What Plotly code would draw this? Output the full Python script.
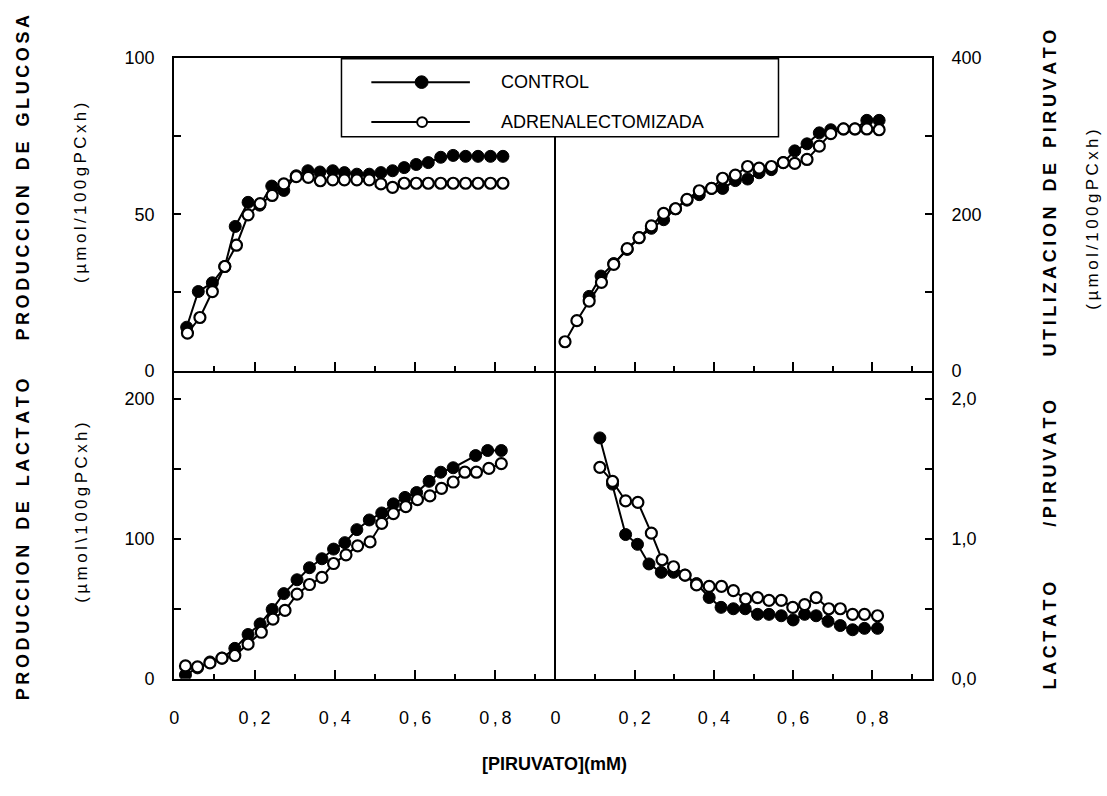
import plotly.graph_objects as go

# ---------------- data ----------------
# Top-left: glucose production (umol/100gPC x h)
x_glu_ctrl = [0.031, 0.060, 0.095, 0.126, 0.152, 0.184, 0.213, 0.243, 0.273, 0.304, 0.333, 0.363, 0.395, 0.424,
              0.455, 0.486, 0.515, 0.544, 0.573, 0.603, 0.633, 0.664, 0.695, 0.726, 0.757, 0.788, 0.819]
glu_ctrl = [13.9, 25.3, 28.1, 33.3, 46.1, 53.8, 52.9, 59.0, 57.6, 62.3, 63.9, 63.5, 63.9, 63.3,
            62.8, 62.8, 63.3, 63.9, 64.9, 65.9, 66.5, 68.2, 68.8, 68.5, 68.5, 68.5, 68.5]
x_glu_adx = [0.033, 0.064, 0.095, 0.126, 0.155, 0.184, 0.214, 0.244, 0.273, 0.304, 0.334, 0.364, 0.395, 0.424,
             0.455, 0.486, 0.515, 0.544, 0.573, 0.603, 0.633, 0.664, 0.695, 0.726, 0.757, 0.788, 0.819]
glu_adx = [12.0, 17.0, 25.3, 33.3, 40.1, 49.8, 53.4, 56.0, 59.7, 62.0, 61.8, 60.7, 61.0, 61.0,
           61.0, 61.0, 59.7, 58.6, 59.9, 59.9, 59.9, 59.9, 59.9, 59.9, 59.9, 59.9, 59.9]

# Top-right: pyruvate utilisation
x_pir_ctrl = [0.085, 0.115, 0.147, 0.181, 0.211, 0.242, 0.273, 0.303, 0.332, 0.363, 0.394, 0.422, 0.454,
              0.485, 0.514, 0.545, 0.575, 0.604, 0.635, 0.666, 0.695, 0.727, 0.756, 0.786, 0.817]
pir_ctrl = [95, 121, 137, 155, 170, 182, 193, 207, 218, 225, 233, 233, 243,
            245, 253, 257, 266, 281, 290, 304, 308, 309, 309, 320, 320]
x_pir_adx = [0.024, 0.054, 0.085, 0.116, 0.147, 0.181, 0.211, 0.242, 0.273, 0.303, 0.332, 0.363, 0.394, 0.422,
             0.454, 0.485, 0.514, 0.545, 0.575, 0.604, 0.635, 0.666, 0.695, 0.727, 0.756, 0.786, 0.817]
pir_adx = [37, 64, 89, 113, 136, 156, 170, 185, 201, 207, 219, 230, 233, 246,
           250, 261, 259, 261, 266, 265, 270, 287, 303, 309, 309, 309, 308]

# Bottom-left: lactate production
x_lac_ctrl = [0.028, 0.058, 0.089, 0.119, 0.151, 0.184, 0.214, 0.244, 0.273, 0.306, 0.337, 0.368, 0.397,
              0.425, 0.455, 0.486, 0.517, 0.546, 0.575, 0.604, 0.635, 0.664, 0.695, 0.751, 0.781, 0.815]
lac_ctrl = [2.8, 7.8, 12.0, 14.7, 21.7, 31.6, 39.2, 49.5, 60.8, 70.7, 79.3, 85.7, 92.6,
            97.2, 106.5, 113.4, 118.4, 124.9, 129.5, 133.0, 141.0, 147.5, 150.7, 159.4, 163.0, 163.0]
x_lac_adx = [0.028, 0.058, 0.089, 0.119, 0.151, 0.184, 0.217, 0.246, 0.276, 0.306, 0.337, 0.368, 0.397, 0.428,
             0.457, 0.488, 0.517, 0.546, 0.577, 0.606, 0.637, 0.666, 0.695, 0.724, 0.753, 0.784, 0.815]
lac_adx = [9.2, 8.5, 11.3, 14.7, 16.6, 24.7, 33.2, 42.6, 48.8, 60.4, 67.3, 72.4, 82.3, 88.5,
           94.9, 97.7, 111.0, 118.0, 123.0, 127.9, 130.6, 136.0, 140.5, 147.5, 147.5, 150.2, 153.7]

# Bottom-right: lactate / pyruvate ratio
x_lp_ctrl = [0.112, 0.144, 0.177, 0.207, 0.236, 0.267, 0.298, 0.327, 0.356, 0.388, 0.418, 0.449,
             0.479, 0.510, 0.539, 0.570, 0.600, 0.629, 0.658, 0.688, 0.719, 0.750, 0.780, 0.813]
lp_ctrl = [1.72, 1.39, 1.03, 0.96, 0.82, 0.76, 0.76, 0.74, 0.68, 0.58, 0.51, 0.50,
           0.50, 0.46, 0.46, 0.45, 0.42, 0.46, 0.45, 0.41, 0.38, 0.35, 0.36, 0.36]
x_lp_adx = [0.112, 0.144, 0.177, 0.208, 0.242, 0.269, 0.298, 0.327, 0.356, 0.388, 0.419, 0.449,
            0.480, 0.510, 0.539, 0.570, 0.599, 0.629, 0.658, 0.690, 0.719, 0.750, 0.780, 0.813]
lp_adx = [1.51, 1.41, 1.27, 1.26, 1.04, 0.85, 0.80, 0.74, 0.67, 0.66, 0.66, 0.63,
          0.57, 0.58, 0.56, 0.56, 0.51, 0.53, 0.58, 0.50, 0.50, 0.46, 0.46, 0.45]

series_names = ["CONTROL", "ADRENALECTOMIZADA"]
x_major = [0, 0.2, 0.4, 0.6, 0.8]
x_minor = [0.1, 0.3, 0.5, 0.7, 0.9]
T = "\u2009"
x_labels = ["0", "0" + T + "," + T + "2", "0" + T + "," + T + "4", "0" + T + "," + T + "6", "0" + T + "," + T + "8"]

# ---------------- layout helpers ----------------
W, H = 1107, 796
def px(x):
    return x / W
def py(y):
    return 1 - y / H

FONT = "Liberation Sans, Arial, Helvetica, sans-serif"
BLACK = "#000000"
xL = [px(170), px(553)]
xR = [px(553), px(931)]
yT = [py(370), py(49)]
yB = [py(686), py(370)]

fig = go.Figure()

def add_pair(xc, yc, xa, ya, xaxis, yaxis):
    fig.add_trace(go.Scatter(x=xc, y=yc, mode="lines+markers", name=series_names[0],
                             xaxis=xaxis, yaxis=yaxis, showlegend=False,
                             line=dict(color=BLACK, width=2),
                             marker=dict(symbol="circle", size=12, color=BLACK,
                                         line=dict(color=BLACK, width=1))))
    fig.add_trace(go.Scatter(x=xa, y=ya, mode="lines+markers", name=series_names[1],
                             xaxis=xaxis, yaxis=yaxis, showlegend=False,
                             line=dict(color=BLACK, width=2),
                             marker=dict(symbol="circle", size=11, color="white",
                                         line=dict(color=BLACK, width=2.2))))

add_pair(x_glu_ctrl, glu_ctrl, x_glu_adx, glu_adx, "x", "y")
add_pair(x_pir_ctrl, pir_ctrl, x_pir_adx, pir_adx, "x2", "y2")
add_pair(x_lac_ctrl, lac_ctrl, x_lac_adx, lac_adx, "x3", "y3")
add_pair(x_lp_ctrl, lp_ctrl, x_lp_adx, lp_adx, "x4", "y4")

tickfont = dict(family=FONT, size=18, color=BLACK)

def xaxis_cfg(domain, anchor, labels, mirror):
    return dict(domain=domain, anchor=anchor, range=[0, 0.95], showgrid=False, zeroline=False,
                showline=True, linecolor=BLACK, linewidth=2, mirror=mirror,
                ticks="inside", tickmode="array", tickvals=x_major,
                ticktext=x_labels, showticklabels=labels, ticklen=9, tickwidth=2, tickcolor=BLACK,
                minor=dict(tickmode="array", tickvals=x_minor, ticks="inside", ticklen=5,
                           tickwidth=2, tickcolor=BLACK),
                tickfont=tickfont, ticklabelstandoff=22, fixedrange=True)

def yaxis_cfg(domain, anchor, rng, vals, text, side, mirror):
    return dict(domain=domain, anchor=anchor, range=rng, showgrid=False, zeroline=False,
                showline=True, linecolor=BLACK, linewidth=2, mirror=mirror, side=side,
                ticks="inside", tickmode="array", tickvals=vals, ticktext=text,
                ticklen=7, tickwidth=2, tickcolor=BLACK, tickfont=tickfont,
                ticklabelstandoff=14, fixedrange=True)

fig.update_layout(
    width=W, height=H, margin=dict(l=0, r=0, t=0, b=0, pad=0),
    paper_bgcolor="white", plot_bgcolor="white", showlegend=False,
    font=dict(family=FONT, color=BLACK),
    xaxis=xaxis_cfg(xL, "y", False, True),
    xaxis2=xaxis_cfg(xR, "y2", False, True),
    xaxis3=xaxis_cfg(xL, "y3", True, False),
    xaxis4=xaxis_cfg(xR, "y4", True, False),
    yaxis=yaxis_cfg(yT, "x", [0, 100], [0, 25, 50, 75, 100], ["0", "", "50", "", "100"], "left", False),
    yaxis2=yaxis_cfg(yT, "x2", [0, 400], [0, 100, 200, 300, 400], ["0", "", "200", "", "400"], "right", True),
    yaxis3=yaxis_cfg(yB, "x3", [0, 220], [0, 50, 100, 150, 200], ["0", "", "100", "", "200"], "left", False),
    yaxis4=yaxis_cfg(yB, "x4", [0, 2.2], [0, 0.5, 1.0, 1.5, 2.0], ["0,0", "", "1,0", "", "2,0"], "right", True),
)

# ---------------- legend (drawn box) ----------------
shapes = [
    dict(type="rect", xref="paper", yref="paper", x0=px(338), x1=px(777), y0=py(130), y1=py(50),
         fillcolor="white", line=dict(color=BLACK, width=1.5), layer="above"),
    dict(type="line", xref="paper", yref="paper", x0=px(368), x1=px(467), y0=py(74), y1=py(74),
         line=dict(color=BLACK, width=2), layer="above"),
    dict(type="line", xref="paper", yref="paper", x0=px(368), x1=px(467), y0=py(115), y1=py(115),
         line=dict(color=BLACK, width=2), layer="above"),
    dict(type="circle", xref="paper", yref="paper", x0=px(412), x1=px(425), y0=py(80.5), y1=py(67.5),
         fillcolor=BLACK, line=dict(color=BLACK, width=1), layer="above"),
    dict(type="circle", xref="paper", yref="paper", x0=px(414), x1=px(424), y0=py(120), y1=py(110),
         fillcolor="white", line=dict(color=BLACK, width=2), layer="above"),
]
fig.update_layout(shapes=shapes)

ann = []
ann.append(dict(x=px(496), y=py(74), xref="paper", yref="paper", text=series_names[0], showarrow=False,
                xanchor="left", yanchor="middle", font=dict(family=FONT, size=18, color=BLACK)))
ann.append(dict(x=px(496), y=py(115), xref="paper", yref="paper", text=series_names[1], showarrow=False,
                xanchor="left", yanchor="middle", font=dict(family=FONT, size=18, color=BLACK)))

def spaced(s):
    return T.join(list(s))

def spaced_words(words, gap):
    return gap.join(spaced(w) for w in words)

def vtext(x, y, text, bold=True, size=17):
    t = "<b>" + text + "</b>" if bold else text
    ann.append(dict(x=px(x), y=py(y), xref="paper", yref="paper", text=t, showarrow=False,
                    textangle=-90, xanchor="center", yanchor="middle",
                    font=dict(family=FONT, size=size, color=BLACK)))

GAP = "&nbsp;&nbsp;&nbsp;"
vtext(18, 172, spaced_words(["PRODUCCION", "DE", "GLUCOSA"], GAP), size=18)
vtext(76, 188, spaced("(\u00b5mol/100gPCxh)"), bold=False, size=17)
vtext(18, 543, spaced_words(["PRODUCCION", "DE", "LACTATO"], GAP), size=18)
vtext(76, 516, spaced("(\u00b5mol\\100gPCxh)"), bold=False, size=17)
vtext(1050, 188, spaced_words(["UTILIZACION", "DE", "PIRUVATO"], GAP), size=18)
vtext(1093, 215, spaced("(\u00b5mol/100gPCxh)"), bold=False, size=17)
vtext(1050, 549, spaced_words(["LACTATO", "/PIRUVATO"], GAP * 3 + "&nbsp;&nbsp;"), size=18)

ann.append(dict(x=px(552), y=py(773), xref="paper", yref="paper",
                text="<b>[PIRUVATO](mM)</b>", showarrow=False,
                xanchor="center", yanchor="middle", font=dict(family=FONT, size=18, color=BLACK)))
fig.update_layout(annotations=ann)

fig.write_html("out.html")
